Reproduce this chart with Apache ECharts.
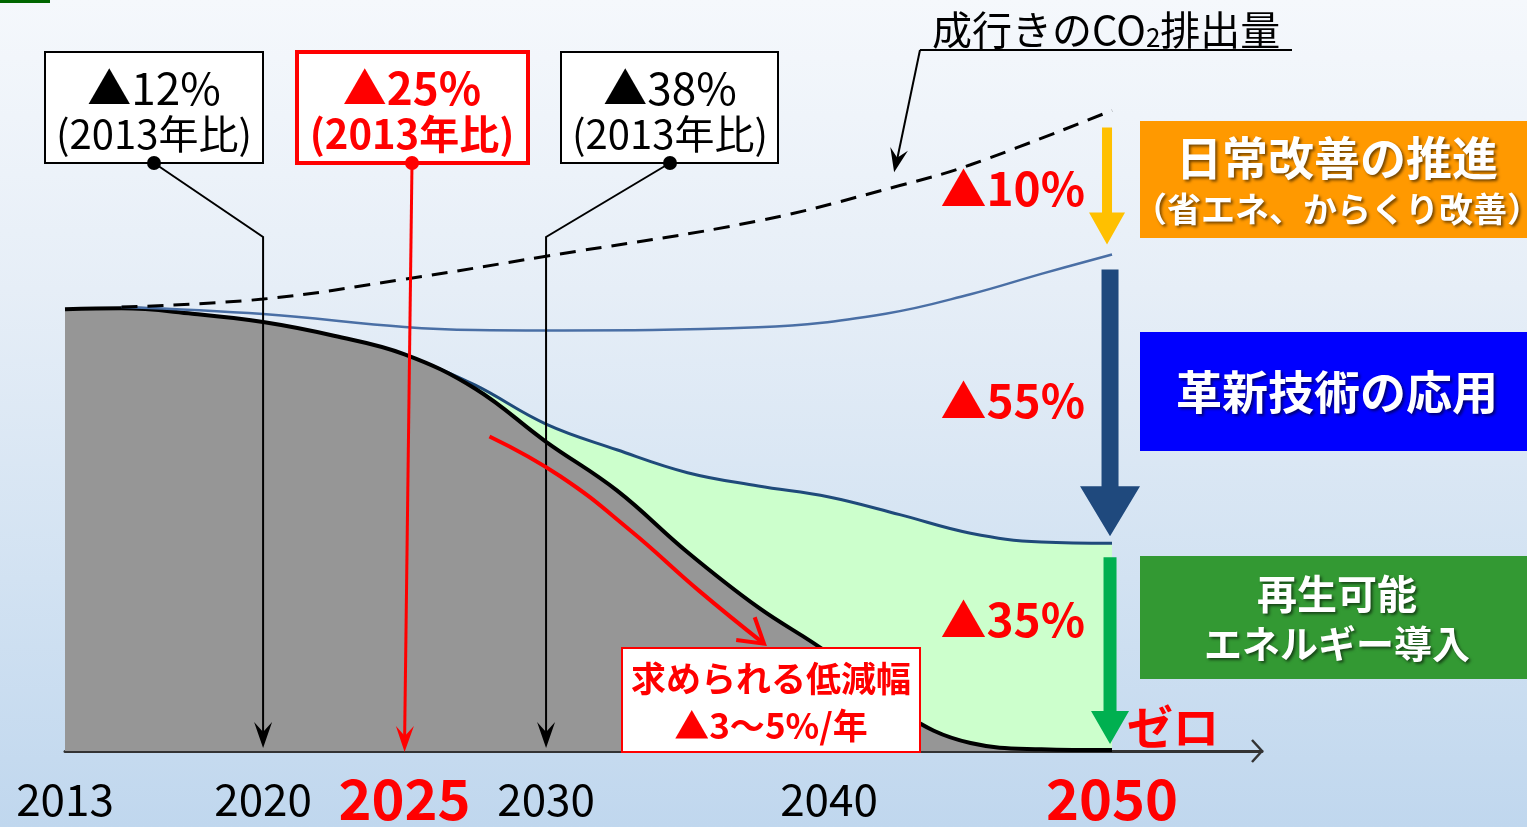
<!DOCTYPE html>
<html><head><meta charset="utf-8">
<script src="https://cdn.jsdelivr.net/npm/echarts@6/dist/echarts.min.js"></script>
<style>
html,body{margin:0;padding:0;width:1527px;height:827px;overflow:hidden;
background:linear-gradient(to bottom,#f5f8fc 0%,#e6eef7 35%,#d2e2f2 70%,#c0d7ee 100%);}
#c{width:1527px;height:827px;}
</style></head><body><div id="c"></div>
<script>
// ---- data (value: % of 2013 emissions) ----
const yearTicks = [2013, 2020, 2025, 2030, 2040, 2050];
const highlightYears = [2025, 2050];
const bauYears = [2015, 2020, 2025, 2030, 2037.5, 2042.5, 2045, 2050];
const bauValues = [100.5, 102.3, 106.8, 112, 120, 128, 132.7, 145];
const kaizenYears = [2015, 2020, 2025, 2027.5, 2030, 2037.5, 2042, 2045, 2047.5, 2050];
const kaizenValues = [100.5, 98.9, 96, 95.3, 95.2, 95.9, 99, 103.4, 108, 112.4];
const actualYears = [2013, 2015, 2017.5, 2020, 2022.5, 2025, 2027.5, 2030, 2032.5, 2035, 2037.5, 2040, 2042.5, 2045, 2047.5, 2050];
const actualValues = [100, 100.2, 99, 97.1, 94, 89.8, 82, 70, 59, 45, 32.5, 22, 9, 1.8, 0.4, 0.2];
const innovYears = [2025, 2027.5, 2030, 2032.5, 2035, 2037.5, 2040, 2042.5, 2045, 2047.5, 2050];
const innovValues = [89.8, 82.8, 74, 68.2, 63, 60, 57.5, 53.5, 49.3, 47.3, 47.0];
const milestoneYears = [2020, 2025, 2030];
const milestoneLabels = ['▲12%', '▲25%', '▲38%'];
const stepLabels = ['▲10%', '▲55%', '▲35%'];
// red "required reduction" arrow path (year, value)
const reqYears = [2028.0, 2030.5, 2033.0, 2035.4, 2037.7];
const reqValues = [71.2, 62.2, 49.8, 36.3, 24.3];

const F = '"Noto Sans CJK JP","Noto Sans",sans-serif';
const zip = (xs, ys) => xs.map((x, i) => [x, ys[i]]);
const chart = echarts.init(document.getElementById('c'));

chart.setOption({
  animation: false,
  backgroundColor: 'transparent',
  grid: {left: 65, right: 265, top: 0, bottom: 72, containLabel: false},
  xAxis: {
    type: 'value', min: 2013, max: 2055.3, interval: 1,
    splitLine: {show: false}, axisTick: {show: false},
    axisLine: {show: true, lineStyle: {color: '#333', width: 3}},
    axisLabel: {
      margin: 48, verticalAlign: 'middle', showMaxLabel: false,
      formatter: v => {
        const y = Math.round(v);
        if (Math.abs(v - y) > 1e-6 || !yearTicks.includes(y)) return '';
        return highlightYears.includes(y) ? '{r|' + y + '}' : '{n|' + y + '}';
      },
      rich: {
        n: {fontSize: 44, color: '#000', fontFamily: F},
        r: {fontSize: 56, color: '#ff0000', fontWeight: 'bold', fontFamily: F}
      }
    }
  },
  yAxis: {type: 'value', min: 0, max: 170, show: false},
  series: [
    {name: '革新技術', type: 'line', data: zip(innovYears, innovValues), smooth: 0.4, symbol: 'none',
     lineStyle: {color: '#1f4a7a', width: 3}, areaStyle: {color: '#ccffcc', opacity: 1}, z: 2},
    {name: '実績', type: 'line', data: zip(actualYears, actualValues), smooth: 0.4, symbol: 'none',
     lineStyle: {color: '#000', width: 4}, areaStyle: {color: '#969696', opacity: 1}, z: 3},
    {name: '日常改善', type: 'line', data: zip(kaizenYears, kaizenValues), smooth: 0.4, symbol: 'none',
     lineStyle: {color: '#4a6fa5', width: 2.5}, z: 4},
    {name: '成行き', type: 'line', data: zip(bauYears, bauValues), smooth: 0.4, symbol: 'none',
     lineStyle: {color: '#000', width: 3, type: [16, 10]}, z: 4}
  ]
});

const P = (x, y) => chart.convertToPixel({gridIndex: 0}, [x, y]);
const g = [];
const txt = (x, y, text, size, color, bold, align, extra) => {
  const st = Object.assign({text: text, fill: color, fontSize: size, fontFamily: F,
    fontWeight: bold ? 'bold' : 'normal', align: align || 'center', verticalAlign: 'middle'}, extra || {});
  g.push({type: 'text', x: x, y: y, z: 50, style: st});
};
const rect = (x, y, w, h, fill, stroke, lw) => g.push({type: 'rect', z: 40,
  shape: {x: x, y: y, width: w, height: h}, style: {fill: fill, stroke: stroke || null, lineWidth: lw || 0}});
const pline = (pts, color, lw, smooth) => g.push({type: 'polyline', z: 45,
  shape: {points: pts, smooth: smooth || 0}, style: {stroke: color, lineWidth: lw, fill: null}});
const stealth = (tip, from, len, hw, color) => {
  const a = Math.atan2(tip[1] - from[1], tip[0] - from[0]), c = Math.cos(a), s = Math.sin(a);
  const back = [tip[0] - len * c, tip[1] - len * s];
  const mid = [tip[0] - len * 0.62 * c, tip[1] - len * 0.62 * s];
  g.push({type: 'polygon', z: 46, shape: {points: [tip, [back[0] + hw * s, back[1] - hw * c], mid, [back[0] - hw * s, back[1] + hw * c]]},
    style: {fill: color}});
};
const openHead = (tip, from, len, color, lw) => {
  const a = Math.atan2(tip[1] - from[1], tip[0] - from[0]), s = 0.55;
  pline([[tip[0] - len * Math.cos(a - s), tip[1] - len * Math.sin(a - s)], tip,
         [tip[0] - len * Math.cos(a + s), tip[1] - len * Math.sin(a + s)]], color, lw);
};
const block = (x, top, tip, sw, hw, hh, color) => g.push({type: 'polygon', z: 30, shape: {points: [
  [x - sw / 2, top], [x + sw / 2, top], [x + sw / 2, tip - hh], [x + hw / 2, tip - hh], [x, tip],
  [x - hw / 2, tip - hh], [x - sw / 2, tip - hh]]}, style: {fill: color}});

const axisY = P(2013, 0)[1];

// top-left mark
rect(0, 0, 50, 3, '#006600');

// milestone boxes
const boxes = [
  {x: 45, w: 218, c: 154, color: '#000', lw: 2, bold: false},
  {x: 297, w: 231, c: 412, color: '#ff0000', lw: 4, bold: true},
  {x: 561, w: 217, c: 670, color: '#000', lw: 2, bold: false}
];
boxes.forEach((b, i) => {
  rect(b.x, 52, b.w, 111, '#fff', b.color, b.lw);
  txt(b.c, 88, milestoneLabels[i], b.bold ? 44 : 44, b.color, b.bold);
  txt(b.c, 134, '(2013年比)', 40, b.color, b.bold);
  const xv = P(milestoneYears[i], 0)[0];
  const tipY = i === 1 ? axisY + 1 : axisY - 3;
  const lw = i === 1 ? 3 : 2;
  const pts = i === 1 ? [[b.c, 163], [xv, tipY - 10]] : [[b.c, 163], [xv, 237], [xv, tipY - 10]];
  pline(pts, b.color, lw);
  stealth([xv, tipY], [pts[pts.length - 2][0], pts[pts.length - 2][1]], 26, 9, b.color);
  g.push({type: 'circle', z: 47, shape: {cx: b.c, cy: 163, r: 7}, style: {fill: b.color}});
});

// BAU label
txt(932, 30, '{a|成行きのCO}{s|2}{a|排出量}', 40, '#000', false, 'left', {
  rich: {a: {fontSize: 40, fontFamily: F, fill: '#000'}, s: {fontSize: 26, fontFamily: F, fill: '#000', verticalAlign: 'bottom', padding: [14, 0, 0, 0]}}
});
pline([[920, 50], [1292, 50]], '#000', 2);
const bauTip = P(2042.3, 131);
pline([[920, 50], [bauTip[0] + 2, bauTip[1] - 8]], '#000', 2);
stealth(bauTip, [920, 50], 24, 9, '#000');

// right-side reduction arrows
const xA = P(2050, 0)[0] - 5;
const yBau = P(2050, bauValues[bauValues.length - 1])[1];
const yKai = P(2050, kaizenValues[kaizenValues.length - 1])[1];
const yInn = P(2050, innovValues[innovValues.length - 1])[1];
block(xA, yBau + 17, yKai - 10, 10, 36, 32, '#ffc000');
block(xA + 3, yKai + 15, yInn - 7, 17, 60, 50, '#1f497d');
block(xA + 3, yInn + 14, axisY - 7, 13, 38, 33, '#00b050');
txt(1085, (yBau + yKai) / 2 + 6, stepLabels[0], 46, '#ff0000', true, 'right');
txt(1085, (yKai + yInn) / 2 + 2, stepLabels[1], 46, '#ff0000', true, 'right');
txt(1085, (yInn + axisY) / 2 - 28, stepLabels[2], 46, '#ff0000', true, 'right');
txt(1127, 727, 'ゼロ', 46, '#ff0000', true, 'left');

// category boxes
const sh = {textShadowColor: 'rgba(0,0,0,0.55)', textShadowBlur: 3, textShadowOffsetX: 2, textShadowOffsetY: 2};
rect(1140, 121, 387, 117, '#ff9900');
txt(1337, 158, '日常改善の推進', 46, '#fff', true, 'center', sh);
txt(1337, 209, '（省エネ、からくり改善）', 34, '#fff', true, 'center', sh);
rect(1140, 332, 387, 119, '#0000ff');
txt(1337, 392, '革新技術の応用', 46, '#fff', true, 'center', sh);
rect(1140, 556, 387, 123, '#339933');
txt(1337, 594, '再生可能', 40, '#fff', true, 'center', sh);
txt(1337, 644, 'エネルギー導入', 38, '#fff', true, 'center', sh);

// required reduction arrow & box
const reqPts = zip(reqYears, reqValues).map(p => P(p[0], p[1]));
pline(reqPts, '#ff0000', 4, 0.45);
openHead(reqPts[reqPts.length - 1], reqPts[reqPts.length - 2], 28, '#ff0000', 4);
rect(622, 648, 298, 104, '#fff', '#ff0000', 2);
txt(771, 679, '求められる低減幅', 35, '#ff0000', true);
txt(771, 726, '▲3～5%/年', 35, '#ff0000', true);

// axis end arrow
const xEnd = P(2055.3, 0)[0];
pline([[xEnd - 10, axisY - 11], [xEnd, axisY], [xEnd - 10, axisY + 11]], '#333', 2.5);

chart.setOption({graphic: {elements: g}});
</script></body></html>
